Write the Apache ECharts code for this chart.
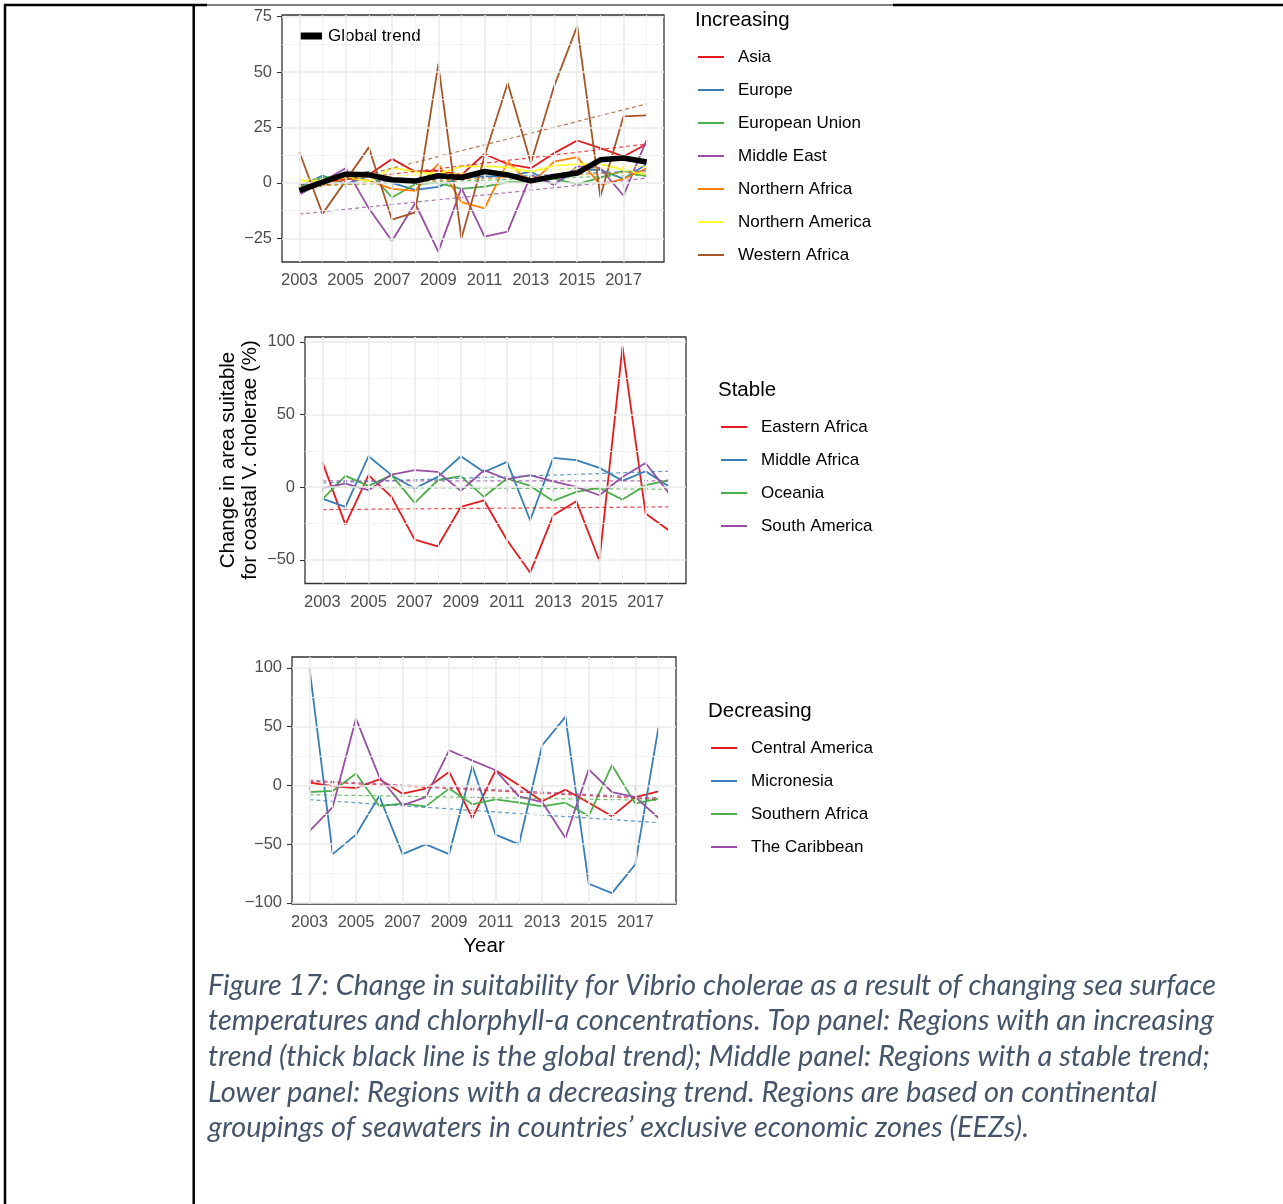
<!DOCTYPE html>
<html><head><meta charset="utf-8">
<script src="https://cdn.jsdelivr.net/npm/echarts@6/dist/echarts.min.js"></script>
<style>html,body{margin:0;padding:0;background:#fff}#c{width:1283px;height:1204px}</style>
</head><body><div id="c"></div>
<script>
// ---------- data ----------
const years = [2003,2004,2005,2006,2007,2008,2009,2010,2011,2012,2013,2014,2015,2016,2017,2018];
const trendYears = [2003, 2018];
const xTickLabels = [2003,2005,2007,2009,2011,2013,2015,2017];
const xMinorLines = [2004,2006,2008,2010,2012,2014,2016,2018];
const yTicksTop = [-25,0,25,50,75];
const yMinorTop = [-12.5,12.5,37.5,62.5];
const yTicksMid = [-50,0,50,100];
const yMinorMid = [-25,25,75];
const yTicksBot = [-100,-50,0,50,100];
const yMinorBot = [-75,-25,25,75];

// Increasing
const asia      = [-1, 1, 3, 3.6, 10.8, 5, 5.5, 3.6, 13, 8.4, 6.6, 13.4, 19.1, 15.7, 11.9, 17.5];
const europe    = [-1.7, 3.3, -0.6, 3, 0, -3.2, -1.8, 2.7, 2.9, 2.9, 5.1, -0.9, 5.9, 5.9, 1.8, 8.4];
const eu        = [-2, 2.4, 3, 5.1, -6.6, -0.6, 0, -2.7, -1.7, 0.3, 0.3, 1.8, -0.6, 2.4, 5.4, 2.9];
const middleEast= [-5.4, 0.6, 6.6, -11.5, -26.2, -9.2, -31, -2.4, -24.3, -22, 3.6, -0.9, 7.4, 6.6, -5.7, 19.4];
const nAfrica   = [-2, -1, 2, 1, -2.7, -3.6, 8.6, -8.7, -11.5, 9.6, -0.6, 9.6, 11.6, -0.9, 1.8, 6.6];
const nAmerica  = [0.9, 1, 3, 0.5, 6.9, 5, 4, 7.4, 7.4, 7, 5, 7.8, 8.4, 8.4, 5.9, 3.6];
const wAfrica   = [13.9, -14, 1, 16, -16.6, -13.3, 53.5, -25, 12, 45, 8.9, 43.5, 70.7, -6.2, 30, 30.4];
const globalTrend = [-3.5, 0.3, 3.9, 3.6, 1.4, 0.8, 3.2, 2.4, 5.1, 3.6, 0.9, 2.9, 4.4, 10.4, 11.2, 9.4];
const asiaT = [-1, 17.5], europeT = [-1, 5.5], euT = [-1.5, 3.5], middleEastT = [-14.1, 2.1];
const nAfricaT = [-1.5, 5], nAmericaT = [1.5, 7.5], wAfricaT = [-4, 35.6];

// Stable
const eAfrica  = [17.4, -25.7, 8.3, -6.6, -36, -40.6, -13.5, -9, -36.5, -58.7, -19.3, -9.6, -50.7, 96.5, -18.1, -29.6];
const mAfrica  = [-7.8, -13.5, 21.3, 8.3, -0.9, 7.1, 21.3, 10.5, 17.4, -22.7, 20.2, 18.6, 13.3, 4.4, 11, 0.7];
const oceania  = [-8.3, 7.8, 0.9, 8.3, -10.8, 4.8, 7.6, -6.6, 6, 0.9, -9.4, -3.2, -0.5, -8.5, 1.4, 4.8];
const sAmerica = [-0.5, 2.5, -2, 8.7, 11.7, 10.5, -2.5, 11.7, 5.5, 8.3, 4.1, 0.2, -5.5, 7.1, 16.7, -3.9];
const eAfricaT = [-15.4, -13.5], mAfricaT = [3, 11], oceaniaT = [0, -1.4], sAmericaT = [4.4, 4.4];

// Decreasing
const cAmerica   = [2.3, -0.6, -2.3, 5.1, -7.1, -2.8, 11.4, -27.8, 12.8, 0, -13.6, -3.7, -14.8, -26.4, -10, -5.1];
const micronesia = [100, -58.6, -42, -9.1, -58.6, -50.3, -58.6, 16.5, -42, -50.3, 34.1, 58.2, -83.8, -91.8, -67.3, 49.7];
const sAfrica    = [-5.7, -4.8, 10, -17.6, -15.6, -17.9, -2.8, -16.2, -11.9, -14.8, -17.9, -14.8, -26.2, 17.1, -15.6, -11.4];
const caribbean  = [-39, -18.5, 56.8, 7.1, -17, -10, 29.8, 21, 12.8, -9.4, -14.2, -44.9, 13.6, -5.7, -10, -27.8];
const cAmericaT = [3.4, -11.9], micronesiaT = [-12.2, -31.8], sAfricaT = [-8, -12.8], caribbeanT = [4.3, -10.8];

const captionLines = [
  'Figure 17: Change in suitability for Vibrio cholerae as a result of changing sea surface',
  'temperatures and chlorphyll-a concentrations. Top panel: Regions with an increasing',
  'trend (thick black line is the global trend); Middle panel: Regions with a stable trend;',
  'Lower panel: Regions with a decreasing trend. Regions are based on continental',
  'groupings of seawaters in countries\u2019 exclusive economic zones (EEZs).'
];

// ---------- styling ----------
const C = {red:'#E41A1C', blue:'#377EB8', green:'#4DAF4A', purple:'#984EA3', orange:'#FF7F00', yellow:'#FFFF33', brown:'#A65628'};
const FONT = '"Liberation Sans", Arial, sans-serif';

const panels = [
  { grid:{left:282, top:15, width:382, height:247}, yMin:-35.7, yMax:75.7, yTicks:yTicksTop, yMinor:yMinorTop,
    title:'Increasing', titlePos:[695,19], legendPos:[698,47],
    items:[['Asia',asia,asiaT,C.red],['Europe',europe,europeT,C.blue],['European Union',eu,euT,C.green],
           ['Middle East',middleEast,middleEastT,C.purple],['Northern Africa',nAfrica,nAfricaT,C.orange],
           ['Northern America',nAmerica,nAmericaT,C.yellow],['Western Africa',wAfrica,wAfricaT,C.brown]] },
  { grid:{left:305, top:337, width:381, height:246.5}, yMin:-66.2, yMax:103.3, yTicks:yTicksMid, yMinor:yMinorMid,
    title:'Stable', titlePos:[718,389], legendPos:[721,417],
    items:[['Eastern Africa',eAfrica,eAfricaT,C.red],['Middle Africa',mAfrica,mAfricaT,C.blue],
           ['Oceania',oceania,oceaniaT,C.green],['South America',sAmerica,sAmericaT,C.purple]] },
  { grid:{left:292, top:657, width:384, height:247}, yMin:-101, yMax:109.2, yTicks:yTicksBot, yMinor:yMinorBot,
    title:'Decreasing', titlePos:[708,710], legendPos:[711,738],
    items:[['Central America',cAmerica,cAmericaT,C.red],['Micronesia',micronesia,micronesiaT,C.blue],
           ['Southern Africa',sAfrica,sAfricaT,C.green],['The Caribbean',caribbean,caribbeanT,C.purple]] }
];

const minusFmt = v => (v < 0 ? '\u2212' + Math.abs(v) : String(v));
const yearFmt = v => String(Math.round(v));

const grids = [], xAxes = [], yAxes = [], series = [], legends = [], graphics = [];

panels.forEach((p, i) => {
  grids.push(Object.assign({show:true, borderColor:'#333333', borderWidth:1.3, backgroundColor:'#fff', z:0}, p.grid));
  xAxes.push({
    type:'value', gridIndex:i, min:2002.25, max:2018.75,
    axisLine:{show:false}, splitLine:{show:false},
    axisTick:{show:true, customValues:xTickLabels, length:5, lineStyle:{color:'#333333', width:1.1}},
    axisLabel:{customValues:xTickLabels, color:'#4D4D4D', fontSize:16.5, fontFamily:FONT, margin:10, formatter:yearFmt}
  });
  yAxes.push({
    type:'value', gridIndex:i, min:p.yMin, max:p.yMax,
    axisLine:{show:false}, splitLine:{show:false},
    axisTick:{show:true, customValues:p.yTicks, length:5, lineStyle:{color:'#333333', width:1.1}},
    axisLabel:{customValues:p.yTicks, color:'#4D4D4D', fontSize:16.5, fontFamily:FONT, margin:10, formatter:minusFmt}
  });
  // background grid lines
  const ml = [];
  xTickLabels.forEach(v => ml.push({xAxis:v, lineStyle:{color:'#EBEBEB', width:1.6, type:'solid'}}));
  xMinorLines.forEach(v => ml.push({xAxis:v, lineStyle:{color:'#F2F2F2', width:0.9, type:'solid'}}));
  p.yTicks.forEach(v => ml.push({yAxis:v, lineStyle:{color:'#EBEBEB', width:1.6, type:'solid'}}));
  p.yMinor.forEach(v => ml.push({yAxis:v, lineStyle:{color:'#F2F2F2', width:0.9, type:'solid'}}));
  series.push({
    type:'line', name:'_grid'+i, xAxisIndex:i, yAxisIndex:i, data:[[2010,0]], showSymbol:false, symbol:'none',
    lineStyle:{opacity:0}, silent:true, z:1,
    markLine:{silent:true, symbol:['none','none'], label:{show:false}, animation:false, emphasis:{disabled:true}, data:ml}
  });
  p.items.forEach(([name, vals, trend, col]) => {
    series.push({
      type:'line', name, xAxisIndex:i, yAxisIndex:i, symbol:'none', showSymbol:false, z:3,
      data: years.map((y, k) => [y, vals[k]]),
      itemStyle:{color:col}, lineStyle:{color:col, width:1.8, join:'round'}, emphasis:{disabled:true}
    });
  });
  p.items.forEach(([name, vals, trend, col]) => {
    series.push({
      type:'line', name:name + ' trend', xAxisIndex:i, yAxisIndex:i, symbol:'none', showSymbol:false, z:4,
      data: trendYears.map((y, k) => [y, trend[k]]),
      itemStyle:{color:col}, lineStyle:{color:col, width:1.2, type:[4,3], opacity:0.8}, emphasis:{disabled:true}
    });
  });
  legends.push({
    data:p.items.map(it => it[0]), left:p.legendPos[0], top:p.legendPos[1], orient:'vertical', padding:0,
    icon:'rect', itemWidth:26, itemHeight:2, itemGap:13, selectedMode:false,
    textStyle:{fontSize:17, color:'#000', fontFamily:FONT, lineHeight:20, padding:[0,0,0,9]}
  });
  graphics.push({type:'text', left:p.titlePos[0], top:p.titlePos[1] - 9,
    style:{text:p.title, fontSize:20.5, fontFamily:FONT, fill:'#000'}});
});

series.push({
  type:'line', name:'Global trend', xAxisIndex:0, yAxisIndex:0, symbol:'none', showSymbol:false, z:6,
  data: years.map((y, k) => [y, globalTrend[k]]),
  itemStyle:{color:'#000'}, lineStyle:{color:'#000', width:5.5, join:'round'}, emphasis:{disabled:true}
});
legends.push({
  data:['Global trend'], left:300, top:26, orient:'vertical', padding:0, icon:'rect', itemWidth:22, itemHeight:7,
  selectedMode:false, textStyle:{fontSize:17, color:'#000', fontFamily:FONT, lineHeight:20, padding:[0,0,0,1]}
});

// axis titles
graphics.push({type:'text', x:228, y:460, rotation:Math.PI/2,
  style:{text:'Change in area suitable', fontSize:20.5, fontFamily:FONT, fill:'#000', align:'center', verticalAlign:'middle'}});
graphics.push({type:'text', x:250, y:460, rotation:Math.PI/2,
  style:{text:'for coastal V. cholerae (%)', fontSize:20.5, fontFamily:FONT, fill:'#000', align:'center', verticalAlign:'middle'}});
graphics.push({type:'text', x:484, y:946,
  style:{text:'Year', fontSize:20.5, fontFamily:FONT, fill:'#000', align:'center', verticalAlign:'middle'}});

// page borders (document table)
const bl = (x1,y1,x2,y2,w) => ({type:'line', shape:{x1,y1,x2,y2}, style:{stroke:'#000', lineWidth:w}, z:10});
graphics.push(bl(5,4,5,1204,2.5), bl(193.7,4,193.7,1204,2.5), bl(4,5,207,5,2.5), bl(207,5,893,5,1), bl(893,5,1283,5,2.5));

// caption (each line fitted to the width it occupies in the reference)
const CAP_FONT = 'italic 28px Lato, "Open Sans", sans-serif';
const capWidths = [1008, 1006, 1002, 949, 821];
const cv = document.createElement('canvas').getContext('2d');
cv.font = CAP_FONT;
const capY = [985.5, 1021.2, 1056.9, 1092.6, 1128.3];
captionLines.forEach((t, k) => {
  const sx = capWidths[k] / cv.measureText(t).width;
  graphics.push({type:'text', x:208, y:capY[k], scaleX:sx, originX:0,
    style:{text:t, font:CAP_FONT, fill:'#44546A', align:'left', verticalAlign:'middle'}});
});

const chart = echarts.init(document.getElementById('c'), null, {renderer:'canvas'});
chart.setOption({
  animation:false, backgroundColor:'#fff',
  grid:grids, xAxis:xAxes, yAxis:yAxes, series, legend:legends, graphic:graphics
});
</script></body></html>
